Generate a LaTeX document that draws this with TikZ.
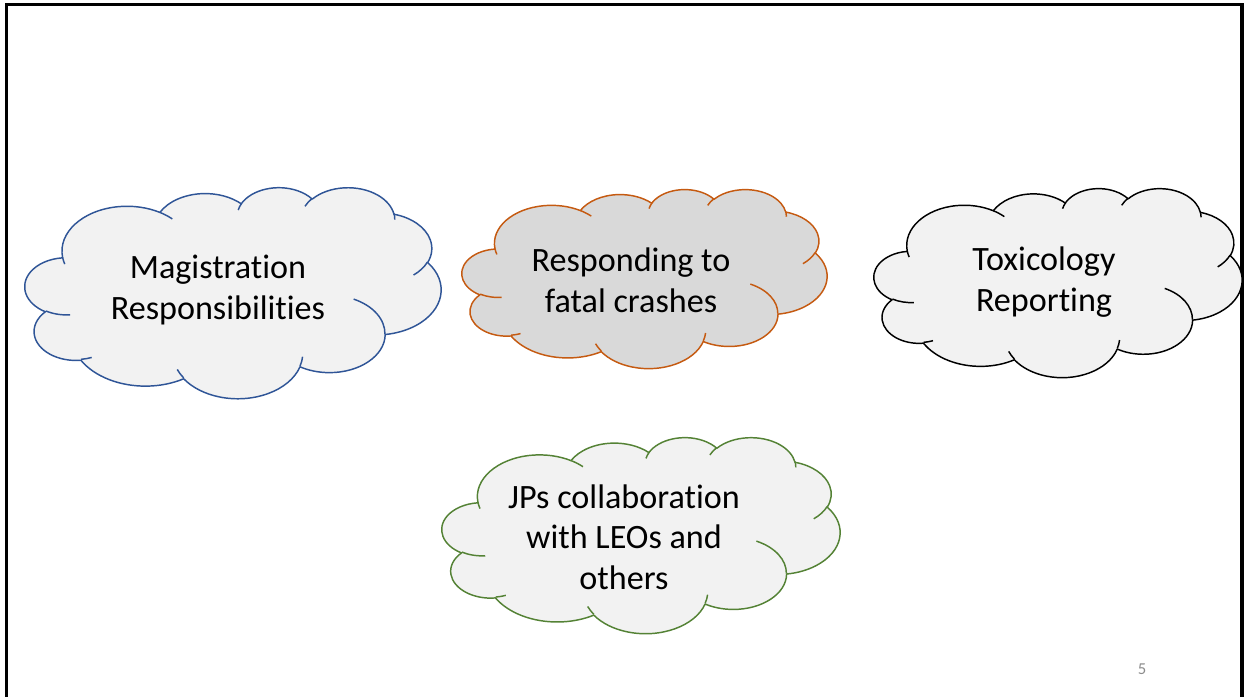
\documentclass[tikz,border=0pt]{standalone}
\usepackage{fontspec}
\setmainfont{Carlito}[Ligatures={NoCommon,NoContextual}, RawFeature=-calt]
\usetikzlibrary{positioning}

% colores de las nubes
\definecolor{cloudblue}{HTML}{2F5597}
\definecolor{cloudorange}{HTML}{C55A11}
\definecolor{cloudgreen}{HTML}{548235}
\definecolor{cloudfill}{HTML}{F2F2F2}
\definecolor{cloudgray}{HTML}{D9D9D9}

\tikzset{
  cloudline/.style={line width=1.1pt, line join=round},
  bluecloud/.style={cloudline, draw=cloudblue},
  orangecloud/.style={cloudline, draw=cloudorange},
  blackcloud/.style={cloudline, draw=black},
  greencloud/.style={cloudline, draw=cloudgreen},
  cloudtext/.style={align=center, inner sep=0pt,
    font=\fontsize{25.6}{30.5}\selectfont},
  pagenum/.style={text=gray!90, font=\fontsize{12.5}{14}\selectfont}
}

% arco de la nube: radio x, radio y, angulo inicial, barrido
\newcommand\cloudarc[4]{arc[x radius=#1, y radius=#2,
  start angle={#3+Mod(atan2(#1*sin(#3),#2*cos(#3))-(#3)+180,360)-180},
  end angle={#3+#4+Mod(atan2(#1*sin(#3+#4),#2*cos(#3+#4))-(#3+#4)+180,360)-180}]}

% nube en la caja (izq, arriba, ancho, alto), estilo, relleno
\newcommand\cloudbox[6]{%
  \begin{scope}[shift={(#1,#2)}, xscale=#3/43.2, yscale=#4/43.2]
    % contorno
    \path[#5, fill=#6] (3.900,14.370)
      \cloudarc{6.753}{9.190}{-190.49}{123.78}
      \cloudarc{5.333}{7.267}{-144.10}{89.95}
      \cloudarc{4.365}{5.945}{-145.81}{99.72}
      \cloudarc{4.857}{6.595}{-130.99}{117.24}
      \cloudarc{5.333}{7.273}{-78.71}{109.03}
      \cloudarc{6.775}{9.220}{-46.27}{130.27}
      \cloudarc{5.785}{7.867}{0.625}{114.03}
      \cloudarc{6.752}{9.215}{22.45}{115.17}
      \cloudarc{7.720}{10.543}{66.24}{75.71}
      \cloudarc{4.360}{5.918}{-274.94}{146.74}
      \cloudarc{4.345}{5.945}{-246.83}{152.52} -- cycle;
    % arcos interiores
    \path[#5]
      (4.693,26.177) \cloudarc{4.345}{5.945}{86.74}{26.43}
      (6.928,34.899) \cloudarc{4.360}{5.918}{73.61}{11.45}
      (16.478,39.090) \cloudarc{6.752}{9.215}{137.62}{14.08}
      (28.827,34.751) \cloudarc{6.752}{9.215}{6.45}{16.00}
      (34.129,22.954) \cloudarc{5.785}{7.867}{-70.29}{70.92}
      (41.798,15.354) \cloudarc{5.333}{7.273}{30.32}{27.75}
      (38.324,5.426) \cloudarc{4.857}{6.595}{-13.74}{14.86}
      (29.078,3.952) \cloudarc{4.857}{6.595}{-149.18}{18.20}
      (22.141,4.720) \cloudarc{4.365}{5.945}{-163.49}{17.69}
      (14.000,5.192) \cloudarc{6.753}{9.190}{-66.71}{12.32}
      (4.127,15.789) \cloudarc{6.753}{9.190}{157.65}{11.86};
  \end{scope}}

\begin{document}
\begin{tikzpicture}[x=0.75pt, y=-0.75pt]
  \useasboundingbox (0,0) rectangle (1249,696);

  % marco de la diapositiva
  \draw[line width=2.4pt] (6.5,700) -- (6.5,4.5) -- (1242,4.5) -- (1242,700);

  % nubes
  \cloudbox{25}{187}{416}{211}{bluecloud}{cloudfill}
  \cloudbox{462}{189}{365}{179}{orangecloud}{cloudgray}
  \cloudbox{874}{188}{368}{189}{blackcloud}{cloudfill}
  \cloudbox{442}{437}{398}{196}{greencloud}{cloudfill}

  % textos
  \node[cloudtext] (magistration) at (218,290) {Magistration\\Responsibilities};
  \node[cloudtext] (responding) at (631,280) {Responding to\\fatal crashes};
  \node[cloudtext] (toxicology) at (1044,282) {Toxicology\\Reporting};
  \node[cloudtext] (collaboration) at (624,537) {JPs collaboration\\with LEOs and\\others};

  % numero de pagina
  \node[pagenum] (pagenum) at (1142,669) {5};
\end{tikzpicture}
\end{document}
